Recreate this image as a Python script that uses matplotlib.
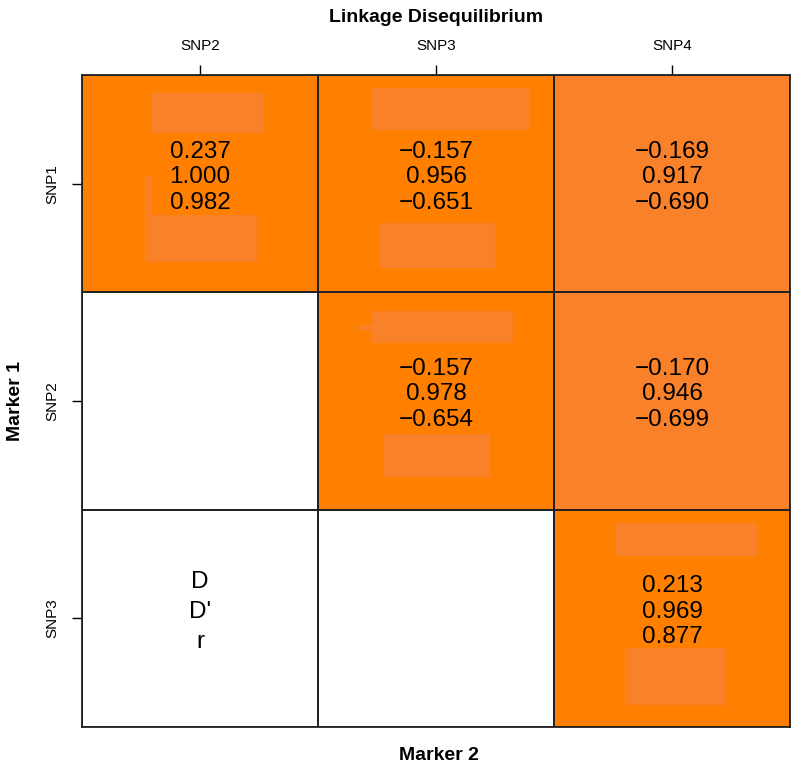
import matplotlib
matplotlib.use("Agg")
import matplotlib.pyplot as plt
import numpy as np
from matplotlib.colors import ListedColormap
from matplotlib.patches import Rectangle

plt.rcParams["font.family"] = ["Liberation Sans", "DejaVu Sans"]

col_markers = ["SNP2", "SNP3", "SNP4"]
row_markers = ["SNP1", "SNP2", "SNP3"]

nan = np.nan
d_vals = [[0.237, -0.157, -0.169],
          [nan, -0.157, -0.170],
          [nan, nan, 0.213]]
dprime_vals = [[1.000, 0.956, 0.917],
               [nan, 0.978, 0.946],
               [nan, nan, 0.969]]
r_vals = [[0.982, -0.651, -0.690],
          [nan, -0.654, -0.699],
          [nan, nan, 0.877]]

# 0 = empty, 1 = orange, 2 = slightly washed-out orange
cell_shade = [[1, 1, 2],
              [0, 1, 2],
              [0, 0, 1]]

# lighter blotches seen inside the cells: (row, col, x0, y0, x1, y1) as cell fractions
blotches = [
    (0, 0, 0.297, 0.083, 0.767, 0.267),
    (0, 0, 0.267, 0.645, 0.742, 0.862),
    (0, 0, 0.267, 0.465, 0.297, 0.645),
    (0, 1, 0.229, 0.060, 0.898, 0.253),
    (0, 1, 0.258, 0.682, 0.750, 0.889),
    (1, 1, 0.229, 0.088, 0.826, 0.235),
    (1, 1, 0.169, 0.152, 0.229, 0.175),
    (1, 1, 0.275, 0.650, 0.729, 0.848),
    (2, 2, 0.263, 0.060, 0.860, 0.212),
    (2, 2, 0.300, 0.636, 0.725, 0.899),
]

ORANGE = "#FF8000"
PALE = "#F98129"

fig = plt.figure(figsize=(8, 7.71), dpi=100)
ax = fig.add_axes([82 / 800, 1 - 727 / 771, 708 / 800, 652 / 771])

cmap = ListedColormap(["white", ORANGE, PALE])
ax.pcolormesh(np.arange(4) - 0.5, np.arange(4) - 0.5, np.array(cell_shade),
              cmap=cmap, vmin=-0.5, vmax=2.5, edgecolor="#222222", linewidth=1.3)

for r, c, x0, y0, x1, y1 in blotches:
    ax.add_patch(Rectangle((c - 0.5 + x0, r - 0.5 + y0), x1 - x0, y1 - y0,
                           facecolor=PALE, edgecolor="none", zorder=2))


def fmt(v):
    return "{:.3f}".format(v).replace("-", "\u2212")


step = 0.118
for i in range(len(row_markers)):
    for j in range(len(col_markers)):
        if np.isnan(d_vals[i][j]):
            continue
        yc = i - 0.03
        for k, v in enumerate([d_vals[i][j], dprime_vals[i][j], r_vals[i][j]]):
            ax.text(j, yc + (k - 1) * step, fmt(v), ha="center", va="center",
                    fontsize=17.5, color="black", zorder=3)

# key cell
for k, s in enumerate(["D", "D'", "r"]):
    ax.text(0, 2 - 0.03 + (k - 1) * 0.138, s, ha="center", va="center",
            fontsize=17.5, color="black", zorder=3)

ax.set_xlim(-0.5, 2.5)
ax.set_ylim(2.5, -0.5)
ax.set_xticks(range(3))
ax.set_xticklabels(col_markers)
ax.set_yticks(range(3))
ax.set_yticklabels(row_markers, rotation=90, va="center")
ax.xaxis.tick_top()
ax.tick_params(axis="x", length=7, width=1, pad=9, labelsize=11)
ax.tick_params(axis="y", length=7, width=1, pad=9, labelsize=11)
for sp in ax.spines.values():
    sp.set_linewidth(1.3)
    sp.set_color("#222222")

fig.text(436 / 800, 1 - 17 / 771, "Linkage Disequilibrium", ha="center",
         va="center", fontsize=14, fontweight="bold")
fig.text(439 / 800, 1 - 755 / 771, "Marker 2", ha="center", va="center",
         fontsize=14, fontweight="bold")
fig.text(15 / 800, 1 - 401 / 771, "Marker 1", ha="center", va="center",
         rotation=90, fontsize=14, fontweight="bold")

fig.savefig("out.png", dpi=100, facecolor="white")
